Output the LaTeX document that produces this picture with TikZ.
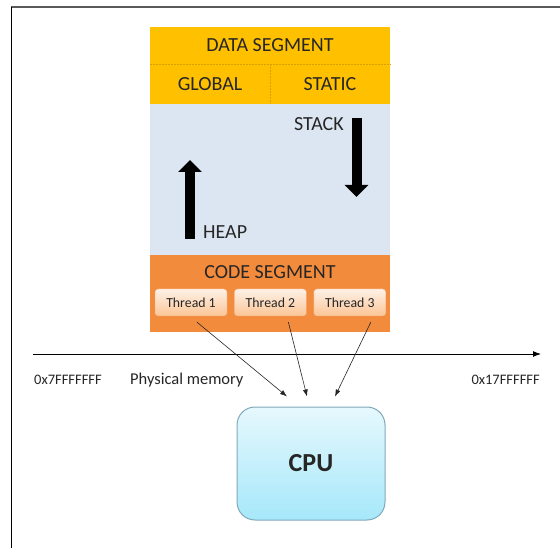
\documentclass[tikz,border=0pt]{standalone}
\usepackage{fontspec}
\setmainfont{Carlito}
\usetikzlibrary{positioning,arrows.meta}

\definecolor{datayellow}{HTML}{FFC000}
\definecolor{datadot}{HTML}{D9A000}
\definecolor{memblue}{HTML}{DCE6F2}
\definecolor{codeorange}{HTML}{F38B3D}
\definecolor{threadtop}{HTML}{FEF1E7}
\definecolor{threadbot}{HTML}{FBC596}
\definecolor{threadline}{HTML}{F0A872}
\definecolor{cputop}{HTML}{E6F8FD}
\definecolor{cpubot}{HTML}{A6E8FA}
\definecolor{cpuline}{HTML}{7FA9BA}
\definecolor{txt}{HTML}{262626}

\begin{document}
\begin{tikzpicture}[x=1pt, y=-1pt, node distance=7pt,
    segbox/.style={rectangle, inner sep=0pt, minimum width=#1},
    seglabel/.style={text=txt, font=\fontsize{20}{24}\selectfont},
    thread/.style={rectangle, rounded corners=3pt, draw=threadline, line width=0.4pt,
      top color=threadtop, bottom color=threadbot, minimum width=72pt, minimum height=27pt,
      inner sep=0pt, text=txt, font=\fontsize{13.8}{16}\selectfont},
    addr/.style={text=txt, font=\fontsize{14.5}{17}\selectfont, inner sep=0pt},
    blockarrow/.style={line width=10pt, -{Triangle[width=23pt,length=12pt]}},
    feed/.style={draw=txt, line width=0.6pt, -{Latex[length=7pt,width=5pt]}}]
  \useasboundingbox (0,0) rectangle (560,548);

  % frame
  \draw[gray!70!black, line width=1.3pt] (11,7) -- (560,7);
  \draw[line width=1pt] (11,7) -- (11,548);

  % memory blocks
  \node[segbox=240pt, minimum height=37pt, fill=datayellow] (data) at (270,45.5) {};
  \node[segbox=120pt, minimum height=40pt, fill=datayellow] (global) at (210,84) {};
  \node[segbox=120pt, minimum height=40pt, fill=datayellow] (static) at (330,84) {};
  \node[segbox=240pt, minimum height=151pt, fill=memblue] (mem) at (270,179.5) {};
  \node[segbox=240pt, minimum height=77pt, fill=codeorange] (code) at (270,293.5) {};
  \draw[datadot, densely dotted, line width=0.5pt] (global.north west) -- (static.north east);
  \draw[datadot, densely dotted, line width=0.5pt] (global.north east) -- (global.south east);

  \node[seglabel] (datalbl) at (data.center) {DATA SEGMENT};
  \node[seglabel] (globallbl) at (global.center) {GLOBAL};
  \node[seglabel] (staticlbl) at (static.center) {STATIC};
  \node[seglabel] (codelbl) at (270,272) {CODE SEGMENT};

  % heap and stack
  \coordinate (heapbot) at (190,239);
  \coordinate (heaptop) at (190,160);
  \coordinate (stacktop) at (356.5,118);
  \coordinate (stackbot) at (356.5,197);
  \draw[blockarrow] (heapbot) -- (heaptop);
  \draw[blockarrow] (stacktop) -- (stackbot);
  \node[seglabel, anchor=west, inner sep=0pt] (heaplbl) at (203,232) {HEAP};
  \node[seglabel, anchor=east, inner sep=0pt] (stacklbl) at (344,124.5) {STACK};

  % threads
  \node[thread] (t1) at (191,302.5) {Thread 1};
  \node[thread, right=of t1] (t2) {Thread 2};
  \node[thread, right=of t2] (t3) {Thread 3};

  % physical memory axis
  \coordinate (axl) at (33,354);
  \coordinate (axr) at (541,354);
  \draw[line width=1pt, -{Latex[length=8pt,width=6pt]}] (axl) -- (axr);
  \node[addr, anchor=west] (lo) at (34,380) {0x7FFFFFFF};
  \node[addr, anchor=west, font=\fontsize{16.5}{19}\selectfont] (pm) at (130,380) {Physical memory};
  \node[addr, anchor=east] (hi) at (540,380) {0x17FFFFFF};

  % cpu
  \node[rectangle, rounded corners=18pt, draw=cpuline, line width=1pt,
    top color=cputop, bottom color=cpubot, minimum width=148pt, minimum height=113pt,
    text=txt, font=\fontsize{26}{30}\selectfont\bfseries] (cpu) at (311,463.5) {CPU};

  \draw[feed] ([xshift=6pt,yshift=-6pt]t1.south) -- ([xshift=-24pt,yshift=10pt]cpu.north);
  \draw[feed] ([xshift=18pt,yshift=-6pt]t2.south) -- ([xshift=-4pt,yshift=10pt]cpu.north);
  \draw[feed] ([xshift=21pt,yshift=-6pt]t3.south) -- ([xshift=24pt,yshift=10pt]cpu.north);
\end{tikzpicture}
\end{document}
